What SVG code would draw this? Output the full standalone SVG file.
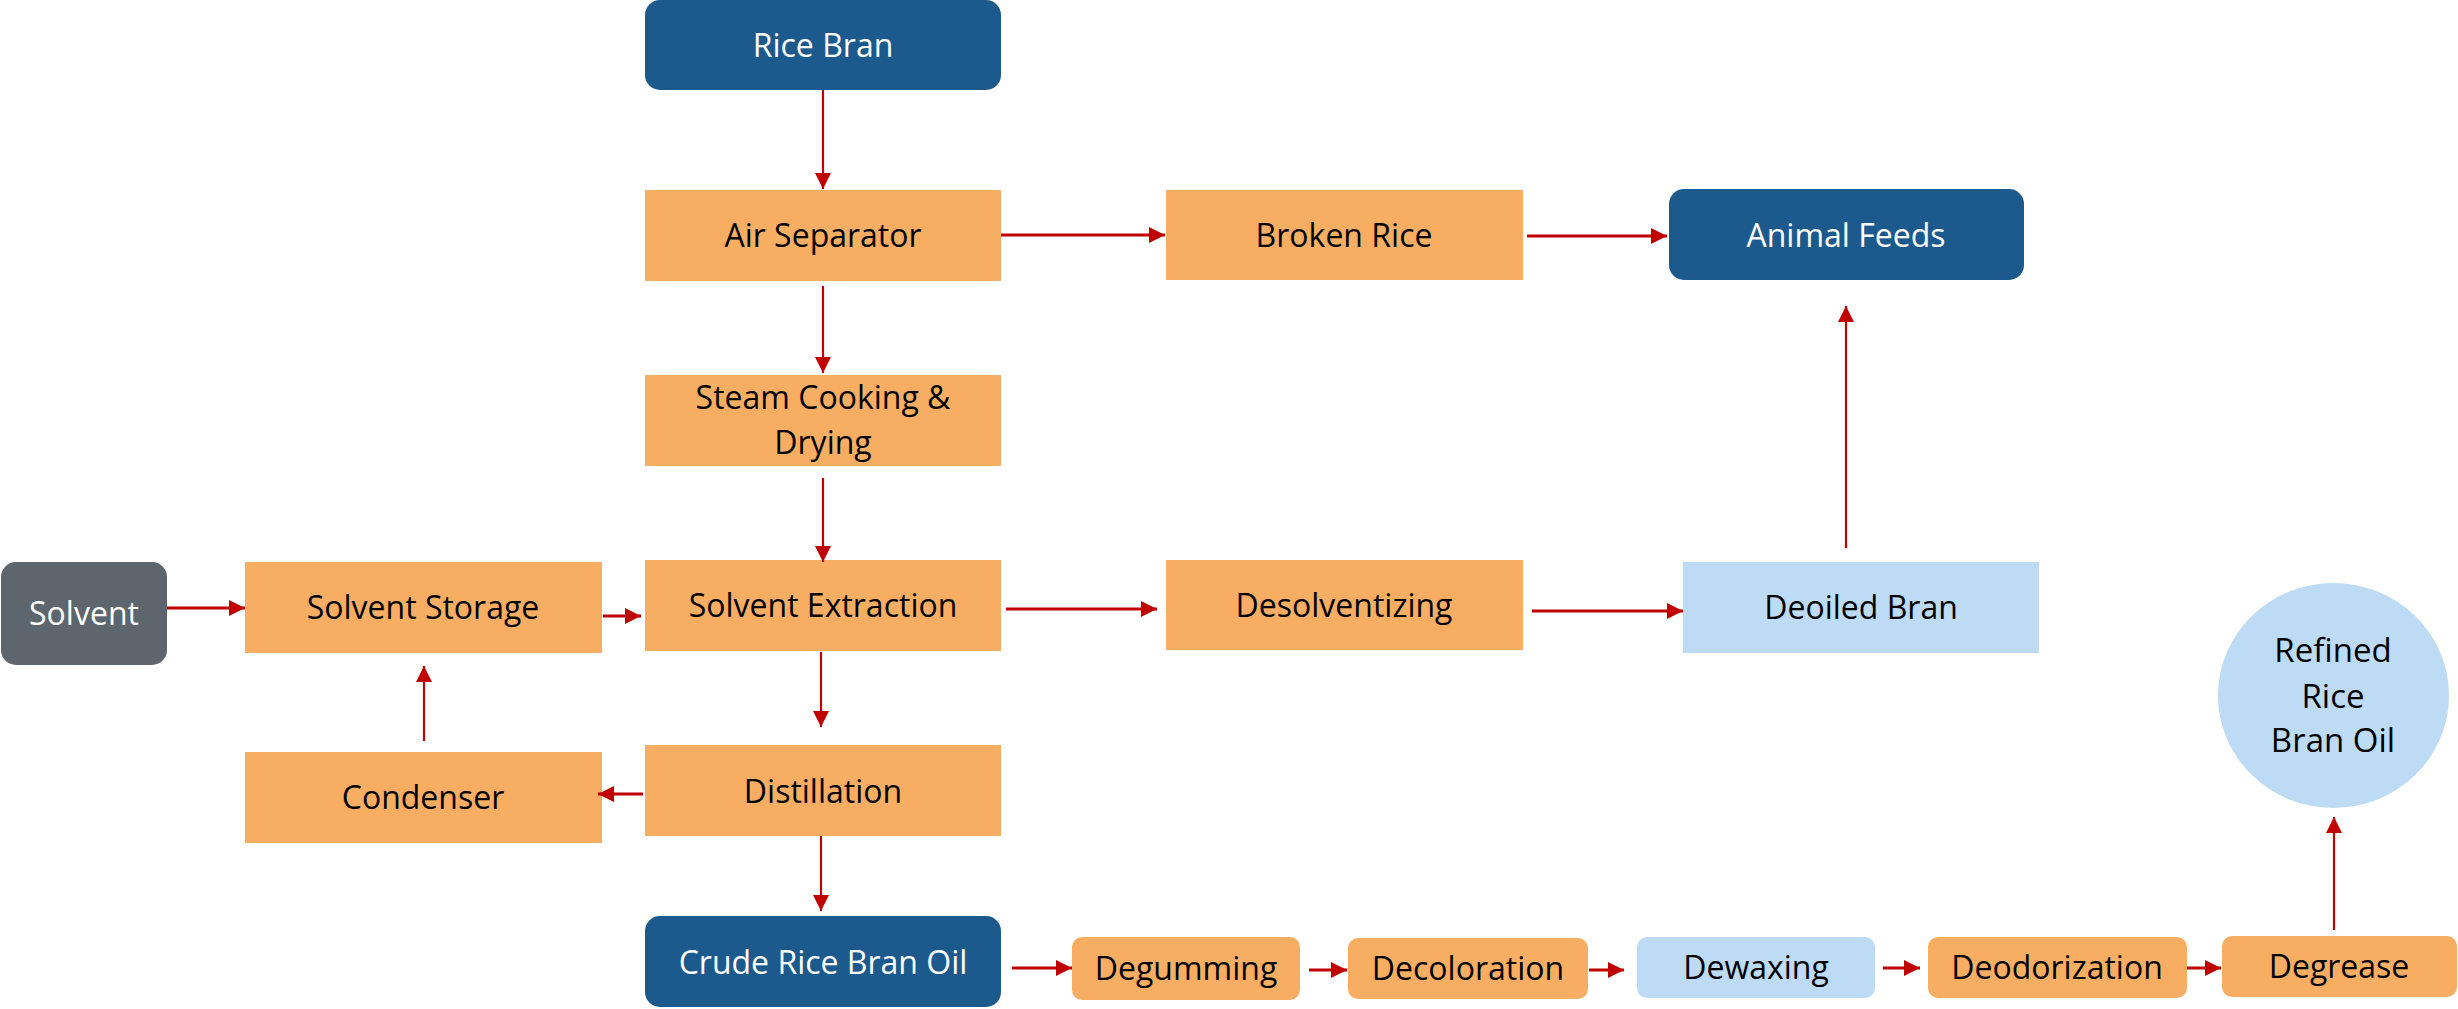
<svg xmlns="http://www.w3.org/2000/svg" width="2458" height="1009" viewBox="0 0 2458 1009">
<style>
.o{fill:#F8AE62}
.d{fill:#1C5A8D}
.l{fill:#BDDBF4}
.g{fill:#5E666D}
text{font-family:"Open Sans","Liberation Sans",sans-serif;font-size:32px;text-anchor:middle;fill:#000}
.w{fill:#fff}
.big{font-size:33px}
.c line{stroke:#C00000;stroke-width:2.2;marker-end:url(#ah)}
.c .t{stroke-width:3.2}
</style>
<defs>
<marker id="ah" markerUnits="userSpaceOnUse" markerWidth="16" markerHeight="16" refX="16" refY="8" orient="auto" viewBox="0 0 16 16">
<path d="M0,0 L16,8 L0,16 z" fill="#C00000"/>
</marker>
</defs>
<g id="rice-bran"><rect class="d" x="645" y="0" width="356" height="90" rx="15"/><text class="w" x="823" y="57">Rice Bran</text></g>
<g id="air-separator"><rect class="o" x="645" y="190" width="356" height="91"/><text x="823" y="247">Air Separator</text></g>
<g id="steam-cooking"><rect class="o" x="645" y="375" width="356" height="91"/><text x="823" y="409">Steam Cooking &amp;</text><text x="823" y="454">Drying</text></g>
<g id="solvent-extraction"><rect class="o" x="645" y="560" width="356" height="91"/><text x="823" y="617">Solvent Extraction</text></g>
<g id="solvent-storage"><rect class="o" x="245" y="562" width="357" height="91"/><text x="423" y="619">Solvent Storage</text></g>
<g id="solvent"><rect class="g" x="1" y="562" width="166" height="103" rx="15"/><text class="w" x="84" y="625">Solvent</text></g>
<g id="condenser"><rect class="o" x="245" y="752" width="357" height="91"/><text x="423" y="809">Condenser</text></g>
<g id="distillation"><rect class="o" x="645" y="745" width="356" height="91"/><text x="823" y="803">Distillation</text></g>
<g id="crude-oil"><rect class="d" x="645" y="916" width="356" height="91" rx="15"/><text class="w" x="823" y="974">Crude Rice Bran Oil</text></g>
<g id="broken-rice"><rect class="o" x="1166" y="190" width="357" height="90"/><text x="1344" y="247">Broken Rice</text></g>
<g id="animal-feeds"><rect class="d" x="1669" y="189" width="355" height="91" rx="15"/><text class="w" x="1846" y="247">Animal Feeds</text></g>
<g id="desolventizing"><rect class="o" x="1166" y="560" width="357" height="90"/><text x="1344" y="617">Desolventizing</text></g>
<g id="deoiled-bran"><rect class="l" x="1683" y="562" width="356" height="91"/><text x="1861" y="619">Deoiled Bran</text></g>
<g id="refined-oil"><ellipse class="l" cx="2333.5" cy="695.5" rx="115.5" ry="112.5"/><text class="big" x="2333" y="662">Refined</text><text class="big" x="2333" y="708">Rice</text><text class="big" x="2333" y="752">Bran Oil</text></g>
<g id="degumming"><rect class="o" x="1072" y="937" width="228" height="63" rx="10"/><text x="1186" y="980">Degumming</text></g>
<g id="decoloration"><rect class="o" x="1348" y="938" width="240" height="61" rx="10"/><text x="1468" y="980">Decoloration</text></g>
<g id="dewaxing"><rect class="l" x="1637" y="937" width="238" height="61" rx="10"/><text x="1756" y="979">Dewaxing</text></g>
<g id="deodorization"><rect class="o" x="1928" y="937" width="259" height="61" rx="10"/><text x="2057" y="979">Deodorization</text></g>
<g id="degrease"><rect class="o" x="2222" y="936" width="235" height="61" rx="10"/><text x="2339" y="978">Degrease</text></g>
<g id="connectors" class="c">
<line x1="823" y1="90" x2="823" y2="189"/>
<line x1="823" y1="286" x2="823" y2="373"/>
<line x1="823" y1="478" x2="823" y2="562"/>
<line class="t" x1="1001" y1="235" x2="1165" y2="235"/>
<line class="t" x1="1527" y1="236" x2="1667" y2="236"/>
<line class="t" x1="1006" y1="609" x2="1157" y2="609"/>
<line class="t" x1="1532" y1="611" x2="1683" y2="611"/>
<line x1="1846" y1="548" x2="1846" y2="306"/>
<line class="t" x1="167" y1="608" x2="245" y2="608"/>
<line class="t" x1="603" y1="616" x2="641" y2="616"/>
<line x1="821" y1="652" x2="821" y2="727"/>
<line class="t" x1="643" y1="794" x2="598" y2="794"/>
<line x1="424" y1="741" x2="424" y2="666"/>
<line x1="821" y1="836" x2="821" y2="911"/>
<line class="t" x1="1012" y1="968" x2="1072" y2="968"/>
<line class="t" x1="1309" y1="970" x2="1347" y2="970"/>
<line class="t" x1="1589" y1="970" x2="1624" y2="970"/>
<line class="t" x1="1883" y1="968" x2="1920" y2="968"/>
<line class="t" x1="2187" y1="968" x2="2221" y2="968"/>
<line x1="2334" y1="930" x2="2334" y2="817"/>
</g>
</svg>
